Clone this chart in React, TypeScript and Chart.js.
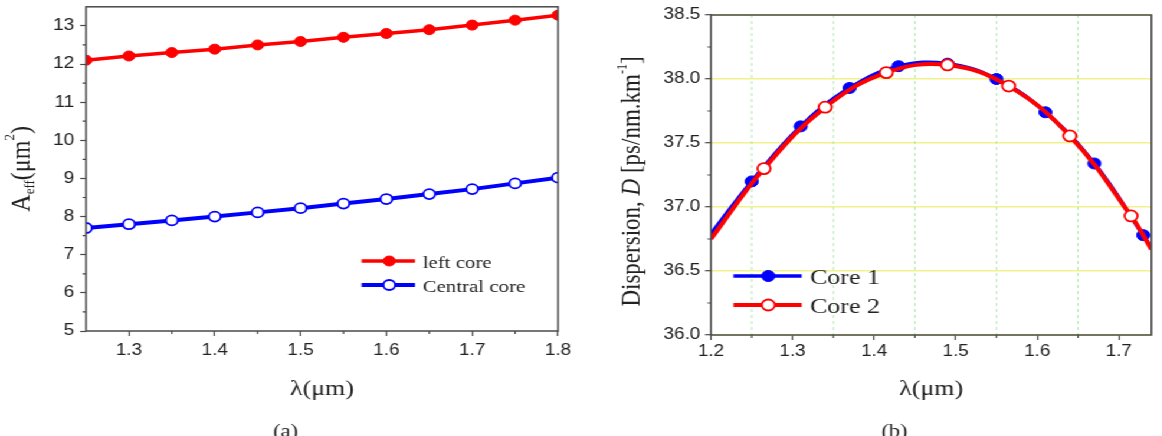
import { useEffect, useRef } from 'react';
import { Chart, registerables } from 'chart.js';

Chart.register(...registerables);

// ---- panel (a): effective mode area vs wavelength ----
const areaWavelength = [1.25, 1.3, 1.35, 1.4, 1.45, 1.5, 1.55, 1.6, 1.65, 1.7, 1.75, 1.8];
const areaLeftCore = [12.1, 12.21, 12.3, 12.39, 12.5, 12.59, 12.7, 12.8, 12.9, 13.02, 13.15, 13.28];
const areaCentralCore = [7.7, 7.8, 7.9, 8.0, 8.11, 8.22, 8.34, 8.46, 8.59, 8.72, 8.87, 9.02];
const areaMinorX = [1.35, 1.45, 1.55, 1.65, 1.75];
const areaMinorY = [5.5, 6.5, 7.5, 8.5, 9.5, 10.5, 11.5, 12.5];

// ---- panel (b): dispersion vs wavelength (first/last entries are curve ends, no marker) ----
const core1Wavelength = [1.2, 1.25, 1.31, 1.37, 1.43, 1.49, 1.55, 1.61, 1.67, 1.73, 1.74];
const core1Dispersion = [36.79, 37.2, 37.63, 37.93, 38.1, 38.12, 38.0, 37.74, 37.34, 36.78, 36.68];
const core2Wavelength = [1.2, 1.265, 1.34, 1.415, 1.49, 1.565, 1.64, 1.715, 1.74];
const core2Dispersion = [36.75, 37.3, 37.78, 38.05, 38.11, 37.945, 37.555, 36.93, 36.67];
const dispMinorX = [1.25, 1.35, 1.45, 1.55, 1.65];
const dispMinorY = [36.25, 36.75, 37.25, 37.75, 38.25];

// ---- layout ----
const STRETCH = 1.18;
const H = 436;
const WA = 492;
const WB = 493;

const SANS = '"Liberation Sans", Arial, sans-serif';
const SERIF = '"Liberation Serif", "Times New Roman", serif';
const INK = '#222';
const AXIS = '#4a4a4a';
const RED = '#ff0000';
const BLUE = '#0000ff';

type Run = { t: string; size: number; dy?: number; italic?: boolean };

function richText(ctx: CanvasRenderingContext2D, runs: Run[], x: number, y: number, vertical: boolean) {
  ctx.save();
  ctx.translate(x, y);
  if (vertical) ctx.rotate(-Math.PI / 2);
  ctx.fillStyle = INK;
  ctx.textBaseline = 'alphabetic';
  ctx.textAlign = 'left';
  const font = (r: Run) => `${r.italic ? 'italic ' : ''}${r.size}px ${SERIF}`;
  const widths = runs.map((r) => {
    ctx.font = font(r);
    return ctx.measureText(r.t).width;
  });
  let cx = -widths.reduce((s, w) => s + w, 0) / 2;
  runs.forEach((r, i) => {
    ctx.font = font(r);
    ctx.fillText(r.t, cx, r.dy ?? 0);
    cx += widths[i];
  });
  ctx.restore();
}

function frame(chart: any) {
  const { ctx, chartArea: a } = chart;
  ctx.save();
  ctx.strokeStyle = AXIS;
  ctx.lineWidth = 1.5;
  ctx.strokeRect(a.left, a.top, a.right - a.left, a.bottom - a.top);
  ctx.restore();
}

function minorTicks(chart: any, xs: number[], ys: number[], len: number) {
  const { ctx, chartArea: a, scales } = chart;
  ctx.save();
  ctx.strokeStyle = AXIS;
  ctx.lineWidth = 1.2;
  ctx.beginPath();
  xs.forEach((v) => {
    const px = scales.x.getPixelForValue(v);
    ctx.moveTo(px, a.bottom);
    ctx.lineTo(px, a.bottom + len);
  });
  ys.forEach((v) => {
    const py = scales.y.getPixelForValue(v);
    ctx.moveTo(a.left, py);
    ctx.lineTo(a.left - len, py);
  });
  ctx.stroke();
  ctx.restore();
}

type LegendItem = { label: string; color: string; width: number; fill: string; radius: number; border: number };

function legend(
  ctx: CanvasRenderingContext2D,
  items: LegendItem[],
  x0: number,
  x1: number,
  xm: number,
  xt: number,
  rows: number[],
  size: number
) {
  ctx.save();
  items.forEach((it, i) => {
    const y = rows[i];
    ctx.strokeStyle = it.color;
    ctx.lineWidth = it.width;
    ctx.beginPath();
    ctx.moveTo(x0, y);
    ctx.lineTo(x1, y);
    ctx.stroke();
    ctx.beginPath();
    ctx.arc(xm, y, it.radius, 0, Math.PI * 2);
    ctx.fillStyle = it.fill;
    ctx.fill();
    ctx.lineWidth = it.border;
    ctx.strokeStyle = it.color;
    ctx.stroke();
    ctx.fillStyle = INK;
    ctx.font = `${size}px ${SERIF}`;
    ctx.textAlign = 'left';
    ctx.textBaseline = 'alphabetic';
    ctx.fillText(it.label, xt, y + size * 0.37);
  });
  ctx.restore();
}

function tickFont() {
  return { family: SANS, size: 16 };
}

function panelA(): any {
  const decor = {
    id: 'decorA',
    afterDatasetsDraw(chart: any) {
      frame(chart);
      minorTicks(chart, areaMinorX, areaMinorY, 3);
    },
    afterDraw(chart: any) {
      const { ctx, chartArea: a } = chart;
      legend(
        ctx,
        [
          { label: 'left core', color: RED, width: 3.5, fill: RED, radius: 5, border: 1 },
          { label: 'Central core', color: BLUE, width: 4, fill: '#fff', radius: 5, border: 1.8 },
        ],
        306.5,
        351.7,
        329.9,
        358.2,
        [261, 285],
        17.7
      );
      richText(
        ctx,
        [
          { t: 'A', size: 24 },
          { t: 'eff', size: 13, dy: 4 },
          { t: '(\u03bcm', size: 24 },
          { t: '2', size: 13, dy: -13 },
          { t: ')', size: 24 },
        ],
        25,
        (a.top + a.bottom) / 2,
        true
      );
      richText(ctx, [{ t: '\u03bb(\u03bcm)', size: 22 }], (a.left + a.right) / 2, 395, false);
      richText(ctx, [{ t: '(a)', size: 19 }], 242, 437, false);
    },
  };
  return {
    type: 'line',
    data: {
      datasets: [
        {
          label: 'left core',
          data: areaWavelength.map((x, i) => ({ x, y: areaLeftCore[i] })),
          borderColor: RED,
          backgroundColor: RED,
          borderWidth: 3.5,
          pointRadius: 5,
          pointBackgroundColor: RED,
          pointBorderColor: RED,
          pointBorderWidth: 1,
          tension: 0,
          clip: 0,
        },
        {
          label: 'Central core',
          data: areaWavelength.map((x, i) => ({ x, y: areaCentralCore[i] })),
          borderColor: BLUE,
          backgroundColor: '#fff',
          borderWidth: 4,
          pointRadius: 5,
          pointBackgroundColor: '#fff',
          pointBorderColor: BLUE,
          pointBorderWidth: 1.8,
          tension: 0,
          clip: 0,
        },
      ],
    },
    options: {
      responsive: false,
      animation: false,
      events: [],
      devicePixelRatio: 1,
      layout: { padding: { left: 0, right: 19.1, top: 5.5, bottom: 0 } },
      plugins: { legend: { display: false }, tooltip: { enabled: false } },
      scales: {
        x: {
          type: 'linear',
          min: 1.25,
          max: 1.8,
          ticks: {
            stepSize: 0.1,
            includeBounds: false,
            autoSkip: false,
            maxRotation: 0,
            padding: 5,
            color: INK,
            font: tickFont(),
            callback: (v: any) => Number(v).toFixed(1),
          },
          grid: { drawOnChartArea: false, tickLength: 5, tickColor: AXIS, tickWidth: 1.2 },
          border: { display: false },
          afterFit: (s: any) => {
            s.height = H - 331;
            s.paddingLeft = 0;
            s.paddingRight = 0;
          },
        },
        y: {
          type: 'linear',
          min: 5,
          max: 13.5,
          ticks: {
            stepSize: 1,
            includeBounds: false,
            autoSkip: false,
            padding: 5,
            color: INK,
            font: tickFont(),
            callback: (v: any) => String(v),
          },
          grid: { drawOnChartArea: false, tickLength: 5, tickColor: AXIS, tickWidth: 1.2 },
          border: { display: false },
          afterFit: (s: any) => {
            s.width = 72.9;
            s.paddingTop = 0;
            s.paddingBottom = 0;
          },
        },
      },
    },
    plugins: [decor],
  };
}

function panelB(): any {
  const last1 = core1Wavelength.length - 1;
  const last2 = core2Wavelength.length - 1;
  const decor = {
    id: 'decorB',
    beforeDatasetsDraw(chart: any) {
      const { ctx, chartArea: a, scales } = chart;
      ctx.save();
      ctx.strokeStyle = '#b4eab0';
      ctx.lineWidth = 1;
      ctx.setLineDash([3, 3]);
      ctx.beginPath();
      dispMinorX.forEach((v) => {
        const px = scales.x.getPixelForValue(v);
        ctx.moveTo(px, a.top);
        ctx.lineTo(px, a.bottom);
      });
      ctx.stroke();
      ctx.restore();
    },
    afterDatasetsDraw(chart: any) {
      frame(chart);
      minorTicks(chart, dispMinorX, dispMinorY, 3);
    },
    afterDraw(chart: any) {
      const { ctx, chartArea: a } = chart;
      legend(
        ctx,
        [
          { label: 'Core 1', color: BLUE, width: 3.5, fill: BLUE, radius: 5.5, border: 1 },
          { label: 'Core 2', color: RED, width: 4, fill: '#fff', radius: 5.5, border: 1.8 },
        ],
        129.5,
        187.4,
        159.1,
        194.4,
        [276, 305],
        22
      );
      richText(
        ctx,
        [
          { t: 'Dispersion, ', size: 23 },
          { t: 'D', size: 23, italic: true },
          { t: ' [ps/nm.km', size: 23 },
          { t: '-1', size: 12, dy: -11 },
          { t: ']', size: 23 },
        ],
        50.4,
        181.5,
        true
      );
      richText(ctx, [{ t: '\u03bb(\u03bcm)', size: 22 }], (a.left + a.right) / 2, 395, false);
      richText(ctx, [{ t: '(b)', size: 19 }], 266, 437, false);
    },
  };
  return {
    type: 'line',
    data: {
      datasets: [
        {
          label: 'Core 1',
          order: 2,
          data: core1Wavelength.map((x, i) => ({ x, y: core1Dispersion[i] })),
          borderColor: BLUE,
          backgroundColor: BLUE,
          borderWidth: 3.5,
          pointRadius: core1Wavelength.map((_, i) => (i === 0 || i === last1 ? 0 : 5.5)),
          pointBackgroundColor: BLUE,
          pointBorderColor: BLUE,
          pointBorderWidth: 1,
          tension: 0.4,
          clip: 0,
        },
        {
          label: 'Core 2',
          order: 1,
          data: core2Wavelength.map((x, i) => ({ x, y: core2Dispersion[i] })),
          borderColor: RED,
          backgroundColor: '#fff',
          borderWidth: 4,
          pointRadius: core2Wavelength.map((_, i) => (i === 0 || i === last2 ? 0 : 5.5)),
          pointBackgroundColor: '#fff',
          pointBorderColor: RED,
          pointBorderWidth: 1.8,
          tension: 0.4,
          clip: 0,
        },
      ],
    },
    options: {
      responsive: false,
      animation: false,
      events: [],
      devicePixelRatio: 1,
      layout: { padding: { left: 0, right: 9.2, top: 15, bottom: 0 } },
      plugins: { legend: { display: false }, tooltip: { enabled: false } },
      scales: {
        x: {
          type: 'linear',
          min: 1.2,
          max: 1.74,
          ticks: {
            stepSize: 0.1,
            includeBounds: false,
            autoSkip: false,
            maxRotation: 0,
            padding: 2,
            color: INK,
            font: tickFont(),
            callback: (v: any) => Number(v).toFixed(1),
          },
          grid: { drawOnChartArea: false, tickLength: 5, tickColor: AXIS, tickWidth: 1.2 },
          border: { display: false },
          afterFit: (s: any) => {
            s.height = H - 335;
            s.paddingLeft = 0;
            s.paddingRight = 0;
          },
        },
        y: {
          type: 'linear',
          min: 36,
          max: 38.5,
          ticks: {
            stepSize: 0.5,
            includeBounds: false,
            autoSkip: false,
            padding: 4,
            color: INK,
            font: tickFont(),
            callback: (v: any) => Number(v).toFixed(1),
          },
          grid: { drawOnChartArea: true, color: '#f2f28a', lineWidth: 1.4, tickLength: 5, tickColor: AXIS, tickWidth: 1.2 },
          border: { display: false },
          afterFit: (s: any) => {
            s.width = 110.5;
            s.paddingTop = 0;
            s.paddingBottom = 0;
          },
        },
      },
    },
    plugins: [decor],
  };
}

export default function App() {
  const refA = useRef<HTMLCanvasElement>(null);
  const refB = useRef<HTMLCanvasElement>(null);

  useEffect(() => {
    const a = new Chart(refA.current as HTMLCanvasElement, panelA());
    const b = new Chart(refB.current as HTMLCanvasElement, panelB());
    return () => {
      a.destroy();
      b.destroy();
    };
  }, []);

  return (
    <div
      style={{
        position: 'absolute',
        left: 0,
        top: 0,
        width: 1162,
        height: H,
        overflow: 'hidden',
        background: '#fff',
      }}
    >
      <div
        style={{
          display: 'flex',
          width: WA + WB,
          height: H,
          transform: `scaleX(${STRETCH})`,
          transformOrigin: '0 0',
        }}
      >
        <canvas ref={refA} width={WA} height={H} style={{ display: 'block' }} />
        <canvas ref={refB} width={WB} height={H} style={{ display: 'block' }} />
      </div>
    </div>
  );
}
